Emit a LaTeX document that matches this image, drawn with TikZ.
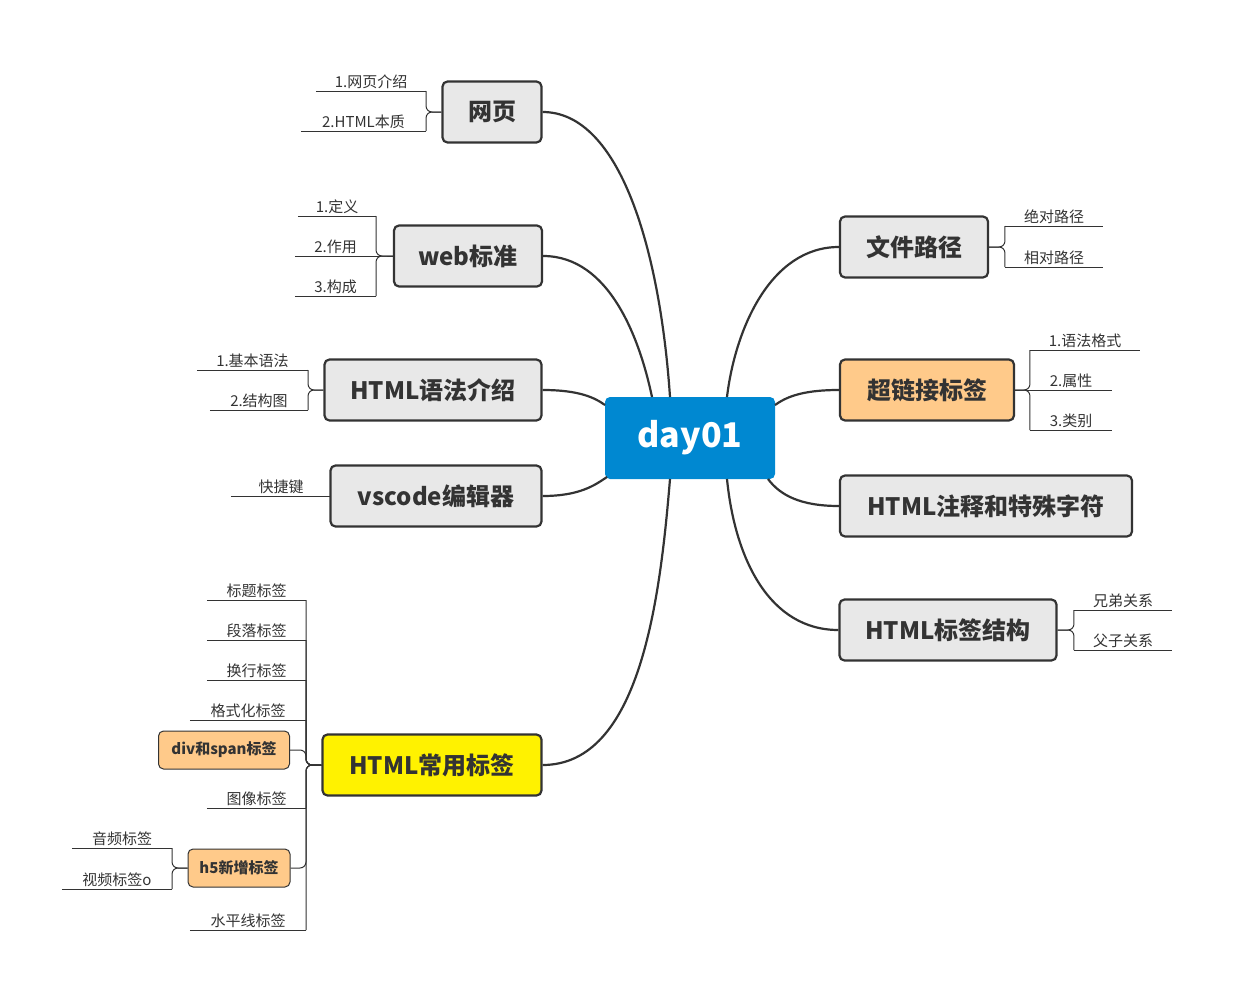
\documentclass[tikz,border=0pt]{standalone}
\usepackage{fontspec}
\setmainfont{Noto Sans CJK SC}
\usetikzlibrary{positioning}
\definecolor{mainblue}{HTML}{0088D1}
\definecolor{topicgray}{HTML}{E8E8E8}
\definecolor{hilite}{HTML}{FFCA8A}
\definecolor{inkdark}{HTML}{333333}

% leaf text sitting on its own underline: name, left x, right x, line y, text
\newcommand\twig[5]{%
  \node[leaf, minimum width=#3pt-#2pt, anchor=south] (#1) at ({(#2+#3)/2},#4) {#5};
  \draw[thin line] (#1.south west) -- (#1.south east);}

\begin{document}
\begin{tikzpicture}[x=1pt,y=-1pt,
  topic/.style={draw=inkdark, line width=2.2pt, fill=topicgray, rounded corners=5pt,
    font=\fontsize{24}{28}\selectfont\bfseries, text=inkdark, minimum height=61pt, inner xsep=0pt},
  root/.style={fill=mainblue, rounded corners=5pt, text=white,
    font=\fontsize{34}{40}\selectfont\bfseries, minimum width=170pt, minimum height=82pt},
  sub/.style={draw=inkdark, line width=1pt, fill=hilite, rounded corners=5pt,
    font=\fontsize{15}{18}\selectfont\bfseries, text=inkdark, minimum height=38pt, inner xsep=0pt},
  leaf/.style={font=\fontsize{15}{18}\selectfont, text=inkdark, inner sep=2pt},
  thin line/.style={draw=inkdark, line width=1pt},
  bracket/.style={draw=inkdark, line width=1pt, rounded corners=6pt},
  branch/.style={draw=inkdark, line width=2.2pt}]

\useasboundingbox (0,0) rectangle (1235,993);

% ------------------------------------------------
% Centre and main topics
\node[root] (day) at (690,438) {day01};

\node[topic, minimum width=99pt]  (web)    at (492,112) {网页};
\node[topic, minimum width=148pt] (std)    at (468,256) {web标准};
\node[topic, minimum width=217pt] (syntax) at (433,390) {HTML语法介绍};
\node[topic, minimum width=211pt] (vsc)    at (436,496) {vscode编辑器};
\node[topic, minimum width=219pt, fill=yellow] (tags) at (432,765) {HTML常用标签};

\node[topic, minimum width=148pt] (path)   at (914,247) {文件路径};
\node[topic, minimum width=174pt, fill=hilite] (link) at (927,390) {超链接标签};
\node[topic, minimum width=292pt] (note)   at (986,506) {HTML注释和特殊字符};
\node[topic, minimum width=217pt] (struct) at (948,630) {HTML标签结构};

% ------------------------------------------------
% Curved branches
\draw[branch] (web.east) .. controls (620,112) and (660,250) .. (670,397);
\draw[branch] (std.east) .. controls (610,256) and (640,340) .. (652,397);
\draw[branch] (syntax.east) .. controls (580,390) and (595,398) .. (605,405);
\draw[branch] (vsc.east) .. controls (580,496) and (595,485) .. (607,477);
\draw[branch] (tags.east) .. controls (640,765) and (660,600) .. (670,479);
\draw[branch] (path.west) .. controls (770,247) and (735,330) .. (727,397);
\draw[branch] (link.west) .. controls (800,390) and (785,398) .. (775,405);
\draw[branch] (note.west) .. controls (800,506) and (780,495) .. (768,479);
\draw[branch] (struct.west) .. controls (770,630) and (735,560) .. (727,479);

% ------------------------------------------------
% Leaves on the left
\twig{w1}{316}{426}{91}{1.网页介绍}
\twig{w2}{301}{426}{131}{2.HTML本质}
\foreach \l in {w1,w2}
  \draw[bracket] (\l.south east) -- (426,112) -- (web.west);

\twig{s1}{298}{376}{216}{1.定义}
\twig{s2}{295}{376}{256}{2.作用}
\twig{s3}{295}{376}{296}{3.构成}
\foreach \l in {s1,s2,s3}
  \draw[bracket] (\l.south east) -- (376,256) -- (std.west);

\twig{g1}{197}{308}{370}{1.基本语法}
\twig{g2}{210}{308}{410}{2.结构图}
\foreach \l in {g1,g2}
  \draw[bracket] (\l.south east) -- (308,390) -- (syntax.west);

\twig{v1}{231}{331}{496}{快捷键}

\twig{t1}{207}{306}{600}{标题标签}
\twig{t2}{207}{306}{640}{段落标签}
\twig{t3}{207}{306}{680}{换行标签}
\twig{t4}{190}{306}{720}{格式化标签}
\twig{t6}{207}{306}{808}{图像标签}
\twig{t8}{190}{306}{930}{水平线标签}
\node[sub, minimum width=131pt] (t5) at (224,750) {div和span标签};
\node[sub, minimum width=102pt] (t7) at (239,868) {h5新增标签};
\foreach \l in {t1,t2,t3,t4,t6,t8}
  \draw[bracket] (\l.south east) -- (306,765) -- (tags.west);
\draw[bracket] (t5.east) -- (306,750) -- (306,765) -- (tags.west);
\draw[bracket] (t7.east) -- (306,868) -- (306,765) -- (tags.west);

\twig{h1}{72}{172}{848}{音频标签}
\twig{h2}{62}{172}{889}{视频标签o}
\foreach \l in {h1,h2}
  \draw[bracket] (\l.south east) -- (172,868) -- (t7.west);

% ------------------------------------------------
% Leaves on the right
\twig{p1}{1005}{1103}{226}{绝对路径}
\twig{p2}{1005}{1103}{267}{相对路径}
\foreach \l in {p1,p2}
  \draw[bracket] (\l.south west) -- (1005,247) -- (path.east);

\twig{k1}{1030}{1140}{350}{1.语法格式}
\twig{k2}{1030}{1112}{390}{2.属性}
\twig{k3}{1030}{1112}{430}{3.类别}
\foreach \l in {k1,k2,k3}
  \draw[bracket] (\l.south west) -- (1030,390) -- (link.east);

\twig{r1}{1074}{1172}{610}{兄弟关系}
\twig{r2}{1074}{1172}{650}{父子关系}
\foreach \l in {r1,r2}
  \draw[bracket] (\l.south west) -- (1074,630) -- (struct.east);

\end{tikzpicture}
\end{document}
